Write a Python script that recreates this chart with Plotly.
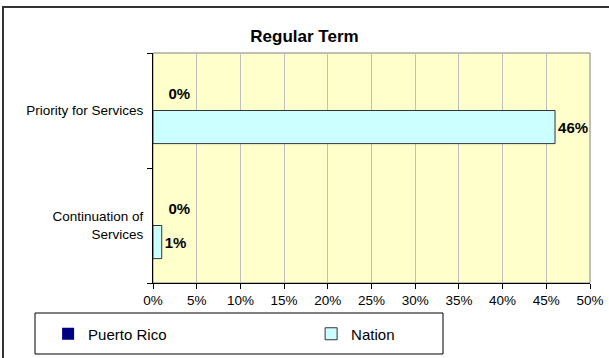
import plotly.graph_objects as go

categories = ["Continuation of<br>Services", "Priority for Services"]
puerto_rico = [0, 0]
nation = [1, 46]
x_ticks = [0, 5, 10, 15, 20, 25, 30, 35, 40, 45, 50]
x_tick_labels = [f"{v}%" for v in x_ticks]
title_text = "Regular Term"

FONT = "Arial, Liberation Sans, sans-serif"
PAD = "\u00a0\u00a0\u00a0"

fig = go.Figure()
fig.add_trace(go.Bar(
    y=categories, x=nation, orientation="h", name="Nation",
    marker=dict(color="#CCFFFF", line=dict(color="#333333", width=1)),
    text=[f"{v}%" for v in nation], textposition="outside",
    textfont=dict(family=FONT, size=15, color="black", weight="bold"),
    cliponaxis=False, legendrank=2,
))
fig.add_trace(go.Bar(
    y=categories, x=puerto_rico, orientation="h", name="Puerto Rico",
    marker=dict(color="#000080", line=dict(color="#000000", width=0)),
    text=[f"{PAD}{v}%" for v in puerto_rico], textposition="outside",
    textfont=dict(family=FONT, size=15, color="black", weight="bold"),
    cliponaxis=False, legendrank=1,
))

fig.update_layout(
    width=609, height=358,
    margin=dict(l=153, r=19, t=53, b=75, autoexpand=False),
    paper_bgcolor="white", plot_bgcolor="#FFFFCC",
    font=dict(family=FONT, size=13.5, color="black"),
    barmode="group", bargap=0.424, bargroupgap=0,
    title=dict(text=title_text, x=0.5, xanchor="center", y=1 - 36 / 358,
               yanchor="middle", yref="container",
               font=dict(family=FONT, size=17, color="black", weight="bold")),
    showlegend=True,
    legend=dict(orientation="h", x=(35 - 153) / 437 + 0.03, xanchor="left",
                y=(283 - 334) / 230, yanchor="middle",
                bgcolor="rgba(0,0,0,0)", borderwidth=0,
                entrywidth=218, entrywidthmode="pixels",
                font=dict(family=FONT, size=15, color="black")),
    xaxis=dict(range=[0, 50], tickvals=x_ticks, ticktext=x_tick_labels,
               showgrid=True, gridcolor="#BFBFBF", gridwidth=1,
               showline=True, linecolor="black", linewidth=1,
               ticks="outside", ticklen=5, tickcolor="black",
               tickfont=dict(size=13.5), automargin=False,
               zeroline=False, fixedrange=True),
    yaxis=dict(range=[-0.5, 1.5], showgrid=False,
               showline=True, linecolor="black", linewidth=1,
               ticks="outside", ticklen=5, tickcolor="black",
               tickson="boundaries", ticklabelstandoff=6,
               tickfont=dict(size=13.5), automargin=False,
               zeroline=False, fixedrange=True),
    shapes=[
        dict(type="rect", xref="paper", yref="paper", x0=0, x1=1, y0=0, y1=1,
             line=dict(color="#808080", width=1), layer="below"),
        dict(type="rect", xref="paper", yref="paper",
             x0=(35 - 153) / 437, x1=(443 - 153) / 437,
             y0=(283 - 354) / 230, y1=(283 - 313) / 230,
             line=dict(color="black", width=1)),
        dict(type="rect", xref="paper", yref="paper",
             x0=(3 - 153) / 437, x1=1.2, y0=-0.5, y1=(283 - 7) / 230,
             line=dict(color="#333333", width=2)),
    ],
)

fig.write_html("out.html", config={"displayModeBar": False},
               post_script="document.body.style.margin='0';")
